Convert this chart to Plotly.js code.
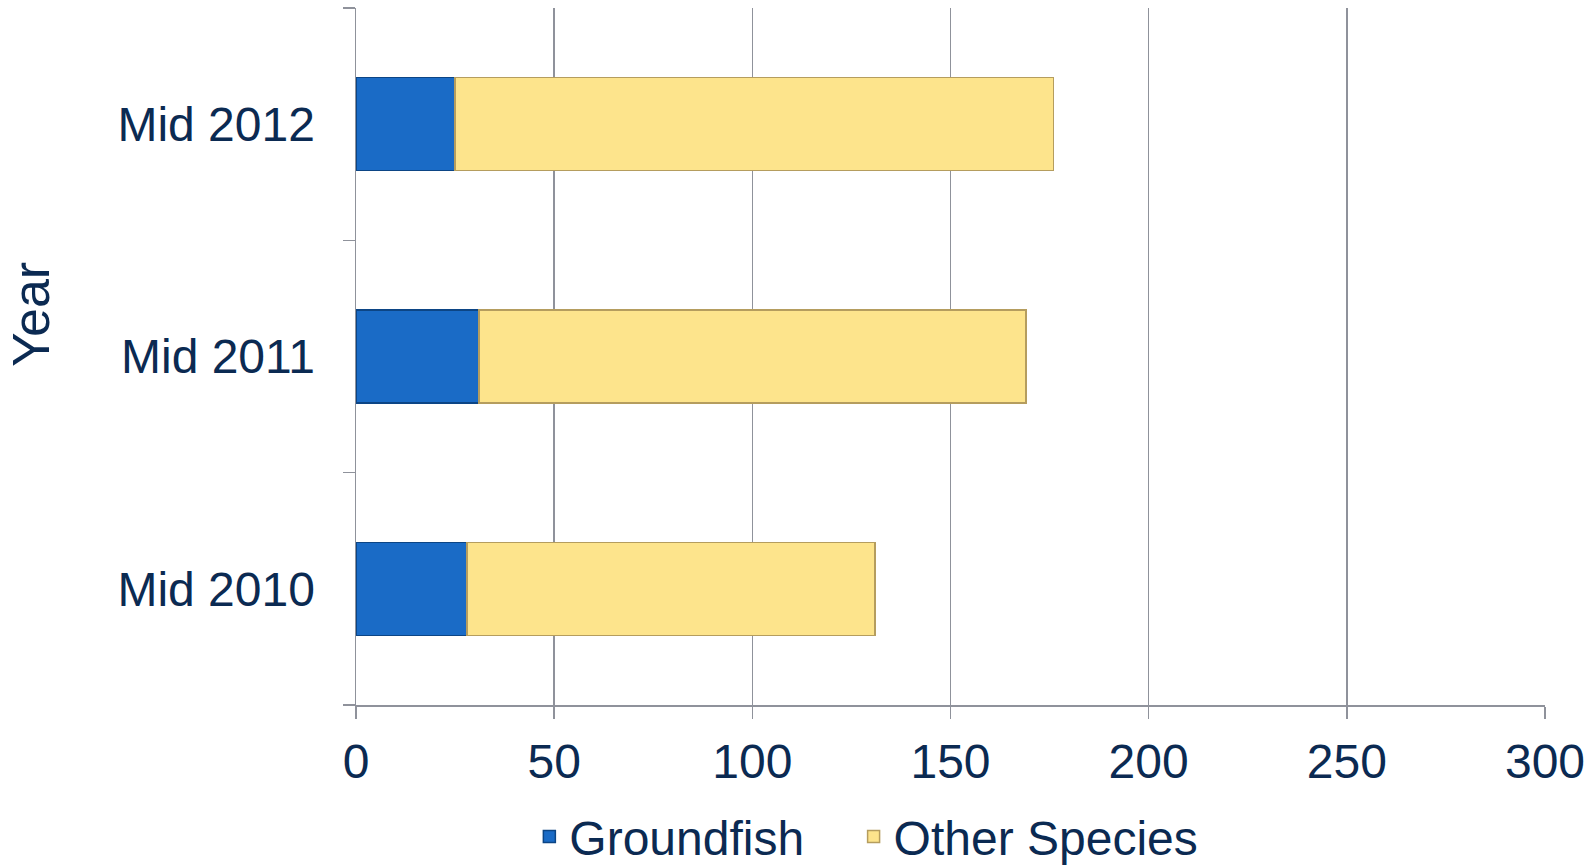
<!DOCTYPE html>
<html>
<head>
<meta charset="utf-8">
<script src="https://cdn.plot.ly/plotly-3.0.1.min.js"></script>
<style>html,body{margin:0;padding:0;background:#fff;}#chart{width:1594px;height:865px;}</style>
</head>
<body>
<div id="chart"></div>
<script>
const years = ["Mid 2010", "Mid 2011", "Mid 2012"];
const groundfish = [28, 31, 25];
const otherSpecies = [103, 138, 151];
const xTicks = [0, 50, 100, 150, 200, 250, 300];

const textColor = "#0b2a52";
const fontFam = "Liberation Sans, Arial, sans-serif";

const data = [
  {
    type: "bar", orientation: "h", name: "Groundfish",
    y: years, x: groundfish, legend: "legend",
    marker: {color: "#1a6bc6", line: {color: "#0c4585", width: 1.5}}
  },
  {
    type: "bar", orientation: "h", name: "Other Species",
    y: years, x: otherSpecies, legend: "legend2",
    marker: {color: "#fde48c", line: {color: "#b59d5e", width: 1.5}}
  }
];

const legendBase = {
  orientation: "h", xanchor: "left",
  yref: "container", y: 0.0325, yanchor: "middle",
  font: {size: 48, color: textColor}, itemwidth: 30,
  bgcolor: "rgba(0,0,0,0)"
};

const layout = {
  width: 1594, height: 865,
  margin: {l: 356, r: 49, t: 8, b: 160},
  barmode: "stack",
  bargap: 0.6,
  paper_bgcolor: "#fff", plot_bgcolor: "#fff",
  font: {family: fontFam, size: 48, color: textColor},
  xaxis: {
    range: [0, 300], tickvals: xTicks, ticktext: xTicks.map(String),
    showgrid: true, gridcolor: "#8f929b", gridwidth: 1.5,
    showline: true, linecolor: "#8f929b", linewidth: 1.5,
    ticks: "outside", ticklen: 12, tickcolor: "#8f929b", tickwidth: 1.5,
    zeroline: false, ticklabelstandoff: 2,
    tickfont: {size: 48, color: textColor}
  },
  yaxis: {
    type: "category", categoryorder: "array", categoryarray: years,
    tickson: "boundaries",
    showgrid: false, showline: true, linecolor: "#8f929b", linewidth: 1.5,
    ticks: "outside", ticklen: 12, tickcolor: "#8f929b", tickwidth: 1.5,
    ticklabelstandoff: 30,
    tickfont: {size: 48, color: textColor}
  },
  showlegend: true,
  legend: Object.assign({}, legendBase, {x: 0.1458}),
  legend2: Object.assign({}, legendBase, {x: 0.4185}),
  annotations: [{
    text: "Year", xref: "paper", yref: "paper", x: -0.274, y: 0.56,
    xanchor: "center", yanchor: "middle", textangle: -90, showarrow: false,
    font: {size: 52, color: textColor}
  }]
};

Plotly.newPlot("chart", data, layout, {displayModeBar: false, staticPlot: true});
</script>
</body>
</html>
